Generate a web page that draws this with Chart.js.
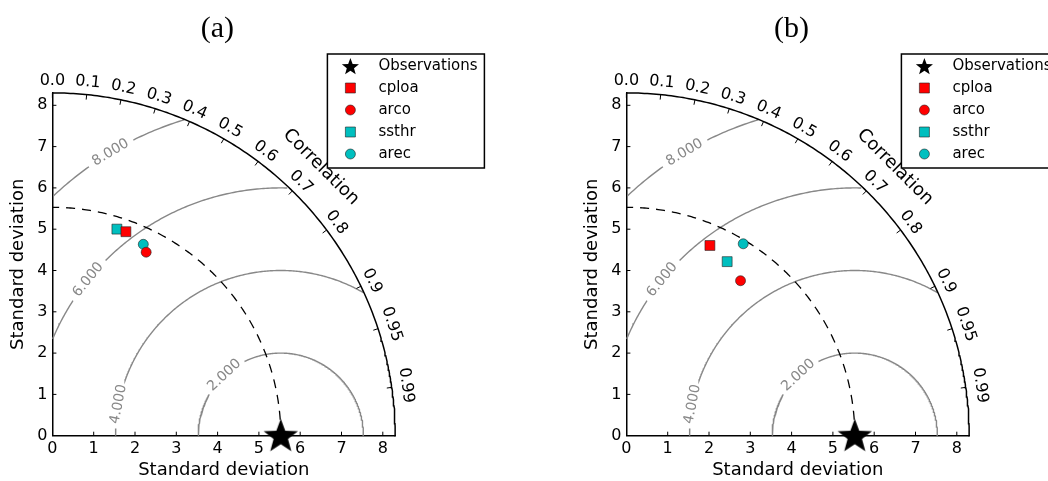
<!DOCTYPE html>
<html>
<head>
<meta charset="utf-8">
<script src="https://cdn.jsdelivr.net/npm/chart.js@4.4.0/dist/chart.umd.min.js"></script>
<style>
  html, body { margin: 0; padding: 0; background: white; }
  #wrap { display: flex; width: 1048px; height: 481px; overflow: hidden; }
  canvas { display: block; }
</style>
</head>
<body>
<div id="wrap">
  <canvas id="chartA" width="574" height="481"></canvas>
  <canvas id="chartB" width="474" height="481"></canvas>
</div>
<script>
// reference (observations) and axis range
const refStd = 5.53;
const maxStd = 8.3;
const stdTicks = [0, 1, 2, 3, 4, 5, 6, 7, 8];
const corrTicks = [0.0, 0.1, 0.2, 0.3, 0.4, 0.5, 0.6, 0.7, 0.8, 0.9, 0.95, 0.99];
const corrTickLabels = ['0.0', '0.1', '0.2', '0.3', '0.4', '0.5', '0.6', '0.7', '0.8', '0.9', '0.95', '0.99'];
const rmsLevels = [2, 4, 6, 8];
const rmsLabels = ['2.000', '4.000', '6.000', '8.000'];
const rmsLabelAngles = [133, 169, 141, 121]; // degrees around the reference point

const modelNames = ['cploa', 'arco', 'ssthr', 'arec'];
const modelColors = ['#ff0000', '#ff0000', '#00bfbf', '#00bfbf'];
const modelMarkers = ['rect', 'circle', 'rect', 'circle'];

// panel (a)
const stdA = [5.25, 4.99, 5.24, 5.13];
const corrA = [0.339, 0.455, 0.298, 0.429];
// panel (b)
const stdB = [5.03, 4.66, 4.87, 5.44];
const corrB = [0.402, 0.593, 0.501, 0.520];


function drawStar(ctx, cx, cy, rOut, rIn) {
    ctx.beginPath();
    for (let i = 0; i < 10; i++) {
        let r = i % 2 == 0 ? rOut : rIn;
        let a = -Math.PI / 2 + i * Math.PI / 5;
        let x = cx + r * Math.cos(a);
        let y = cy + r * Math.sin(a);
        if (i == 0) ctx.moveTo(x, y); else ctx.lineTo(x, y);
    }
    ctx.closePath();
    ctx.fill();
}

function starImage(size) {
    let c = document.createElement('canvas');
    c.width = size; c.height = size;
    let g = c.getContext('2d');
    g.fillStyle = 'black';
    drawStar(g, size / 2, size / 2 + 1, size / 2 - 1, (size / 2 - 1) * 0.42);
    return c;
}


function arcPoints(cx, r, fromDeg, toDeg, gaps) {
    let pts = [];
    for (let d = fromDeg; d <= toDeg + 1e-9; d += 0.5) {
        let a = d * Math.PI / 180;
        let x = cx + r * Math.cos(a);
        let y = r * Math.sin(a);
        if (x < -1e-9 || Math.hypot(x, y) > maxStd + 1e-6) continue;
        let inGap = gaps && gaps.some(g => Math.abs(d - g.deg) < g.half);
        pts.push({ x: x, y: inGap ? null : y });
    }
    return pts;
}


function lineDataset(data, color, width, dash) {
    return {
        type: 'line',
        data: data,
        borderColor: color,
        borderWidth: width,
        borderDash: dash || [],
        pointRadius: 0,
        fill: false,
        tension: 0,
        clip: false,
        order: 10
    };
}


function buildDatasets(stds, corrs) {
    let sets = [];
    sets.push({
        label: 'Observations',
        data: [{ x: refStd, y: 0 }],
        pointStyle: starImage(38),
        pointRadius: 19,
        clip: false,
        order: 0
    });
    for (let i = 0; i < modelNames.length; i++) {
        let s = stds[i], c = corrs[i];
        sets.push({
            label: modelNames[i],
            data: [{ x: s * c, y: s * Math.sqrt(1 - c * c) }],
            pointStyle: modelMarkers[i],
            pointRadius: modelMarkers[i] == 'rect' ? 7 : 5,
            backgroundColor: modelColors[i],
            borderColor: '#222',
            borderWidth: 0.6,
            clip: false,
            order: 1
        });
    }
    // outer boundary and reference std arc
    sets.push(lineDataset(arcPoints(0, maxStd, 0, 90), 'black', 1.5));
    sets.push(lineDataset(arcPoints(0, refStd, 0, 90), 'black', 1.3, [9, 7]));
    // centred RMS difference contours
    rmsLevels.forEach((r, i) => {
        let half = (24 / 41.3) / r * 180 / Math.PI;
        let pts = arcPoints(refStd, r, 0, 180, [{ deg: rmsLabelAngles[i], half: half }]);
        sets.push(lineDataset(pts, '#888888', 1.4));
    });
    return sets;
}


const taylorPlugin = {
    id: 'taylor',
    afterDraw(chart) {
        const ctx = chart.ctx;
        const xs = chart.scales.x, ys = chart.scales.y;
        const area = chart.chartArea;
        const opts = chart.options.plugins.taylor;
        const ox = xs.getPixelForValue(0), oy = ys.getPixelForValue(0);
        const rPix = xs.getPixelForValue(maxStd) - ox;

        function seg(x1, y1, x2, y2) {
            ctx.beginPath(); ctx.moveTo(x1, y1); ctx.lineTo(x2, y2); ctx.stroke();
        }

        ctx.save();
        ctx.strokeStyle = 'black';
        ctx.lineWidth = 1;

        // inward ticks on the straight axes
        stdTicks.forEach(t => {
            if (t == 0) return;
            let x = xs.getPixelForValue(t), y = ys.getPixelForValue(t);
            seg(x, area.bottom, x, area.bottom - 4);
            seg(area.left, y, area.left + 4, y);
        });

        // correlation ticks and labels on the arc
        ctx.fillStyle = 'black';
        ctx.font = '16px "DejaVu Sans"';
        ctx.textAlign = 'center';
        ctx.textBaseline = 'middle';
        corrTicks.forEach((c, i) => {
            let th = Math.acos(c);
            let cs = Math.cos(th), sn = Math.sin(th);
            seg(ox + rPix * cs, oy - rPix * sn, ox + (rPix - 5) * cs, oy - (rPix - 5) * sn);
            let off = corrTickLabels[i].length > 3 ? 14.5 : 12.5;
            ctx.save();
            ctx.translate(ox + (rPix + off) * cs, oy - (rPix + off) * sn);
            ctx.rotate(Math.PI / 2 - th);
            ctx.fillText(corrTickLabels[i], 0, 0);
            ctx.restore();
        });

        // axis title on the arc
        ctx.font = '18px "DejaVu Sans"';
        ctx.save();
        ctx.translate(ox + (rPix + 37) * Math.SQRT1_2, oy - (rPix + 37) * Math.SQRT1_2);
        ctx.rotate(Math.PI / 4);
        ctx.fillText('Correlation', 0, 0);
        ctx.restore();

        // contour labels
        ctx.fillStyle = '#888888';
        ctx.font = '14px "DejaVu Sans"';
        rmsLevels.forEach((r, i) => {
            let a = rmsLabelAngles[i] * Math.PI / 180;
            let x = xs.getPixelForValue(refStd + r * Math.cos(a));
            let y = ys.getPixelForValue(r * Math.sin(a));
            let rot = Math.atan2(-(Math.cos(a)), -Math.sin(a));
            if (rot > Math.PI / 2) rot -= Math.PI;
            if (rot < -Math.PI / 2) rot += Math.PI;
            ctx.save();
            ctx.translate(x, y);
            ctx.rotate(rot);
            ctx.fillText(rmsLabels[i], 0, 0);
            ctx.restore();
        });

        // panel title
        ctx.fillStyle = 'black';
        ctx.font = '30px "Liberation Serif"';
        ctx.fillText(opts.title, area.left + 165, 29);

        // legend
        let lx = area.left + opts.legendX, ly = opts.legendY;
        ctx.fillStyle = 'white';
        ctx.fillRect(lx, ly, 157, 114);
        ctx.strokeStyle = 'black';
        ctx.lineWidth = 1.5;
        ctx.strokeRect(lx, ly, 157, 114);
        ctx.font = '15px "DejaVu Sans"';
        ctx.textAlign = 'left';
        chart.data.datasets.forEach((ds, i) => {
            if (!ds.label) return;
            let ry = ly + 12 + i * 22;
            let mx = lx + 23;
            if (i == 0) {
                ctx.fillStyle = 'black';
                drawStar(ctx, mx, ry + 1, 9, 3.8);
            } else {
                ctx.fillStyle = ds.backgroundColor;
                ctx.strokeStyle = '#222';
                ctx.lineWidth = 0.6;
                ctx.beginPath();
                if (ds.pointStyle == 'rect') ctx.rect(mx - 5, ry - 5, 10, 10);
                else ctx.arc(mx, ry, 5, 0, Math.PI * 2);
                ctx.fill();
                ctx.stroke();
            }
            ctx.fillStyle = 'black';
            ctx.fillText(ds.label, lx + 51, ry);
        });

        ctx.restore();
    }
};


function makePanel(id, title, stds, corrs, canvasWidth) {
    const chartRight = 52.4 + maxStd * 41.3;
    new Chart(document.getElementById(id), {
        type: 'scatter',
        data: { datasets: buildDatasets(stds, corrs) },
        options: {
            responsive: false,
            animation: false,
            layout: {
                padding: { top: 435.7 - maxStd * 41.3, left: 0, right: canvasWidth - chartRight, bottom: 0 }
            },
            scales: {
                x: {
                    type: 'linear',
                    min: 0,
                    max: maxStd,
                    afterFit: s => { s.height = 45.3; },
                    grid: { display: false, drawTicks: false },
                    border: { display: true, color: 'black', width: 1.5 },
                    ticks: {
                        stepSize: 1,
                        includeBounds: false,
                        padding: 4,
                        color: 'black',
                        font: { family: 'DejaVu Sans', size: 16 }
                    },
                    title: {
                        display: true,
                        text: 'Standard deviation',
                        color: 'black',
                        font: { family: 'DejaVu Sans', size: 18 },
                        padding: { top: 0, bottom: 0 }
                    }
                },
                y: {
                    type: 'linear',
                    min: 0,
                    max: maxStd,
                    afterFit: s => { s.width = 52.4; },
                    grid: { display: false, drawTicks: false },
                    border: { display: true, color: 'black', width: 1.5 },
                    ticks: {
                        stepSize: 1,
                        includeBounds: false,
                        padding: 5,
                        color: 'black',
                        font: { family: 'DejaVu Sans', size: 16 }
                    },
                    title: {
                        display: true,
                        text: 'Standard deviation',
                        color: 'black',
                        font: { family: 'DejaVu Sans', size: 18 },
                        padding: { top: 7.5, bottom: 0 }
                    }
                }
            },
            plugins: {
                legend: { display: false },
                tooltip: { enabled: false },
                taylor: { title: title, legendX: 275, legendY: 54 }
            }
        },
        plugins: [taylorPlugin]
    });
}

makePanel('chartA', '(a)', stdA, corrA, 574);
makePanel('chartB', '(b)', stdB, corrB, 474);
</script>
</body>
</html>
